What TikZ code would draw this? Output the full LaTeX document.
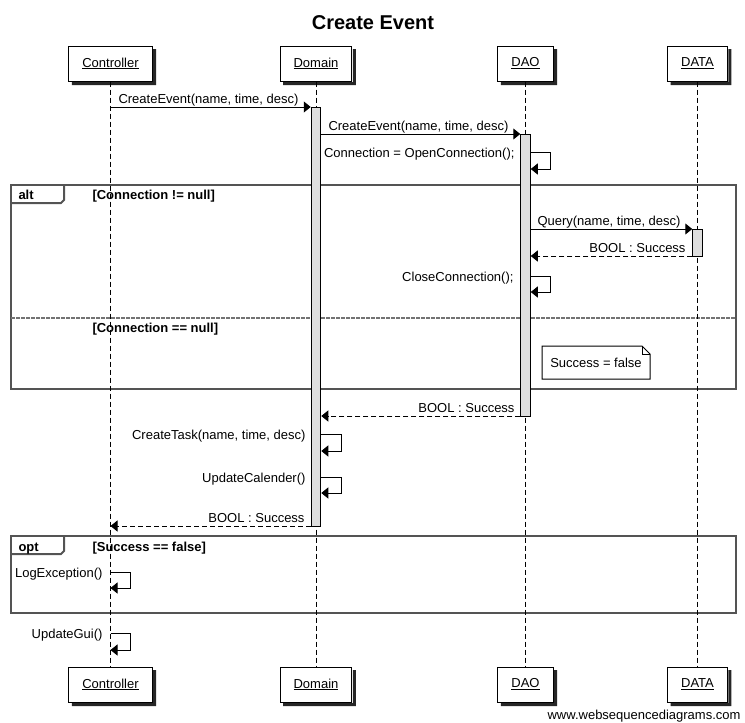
\documentclass[tikz,border=0pt]{standalone}
\usepackage{fontspec}
\setmainfont{Liberation Sans}
\usetikzlibrary{arrows.meta,calc}

\tikzset{
  actor/.style={draw,fill=white,inner xsep=13.5pt,minimum height=35pt,font=\fontsize{13}{15}\selectfont},
  lifeline/.style={dash pattern=on 5pt off 3pt},
  actbar/.style={draw,fill=black!13,minimum width=9.5pt,inner sep=0pt},
  msg/.style={-{Triangle[length=7pt,width=11pt]}},
  reply/.style={msg,dash pattern=on 5pt off 3pt},
  lbl/.style={font=\fontsize{13}{15}\selectfont,inner sep=0pt},
  fragbox/.style={draw=black!67,line width=2pt},
  guard/.style={font=\bfseries\fontsize{13}{15}\selectfont,inner sep=0pt},
}

\begin{document}
\begin{tikzpicture}[x=1pt,y=-1pt,line width=1pt]
\useasboundingbox (0,0) rectangle (745,723);

\node[font=\bfseries\fontsize{20}{24}\selectfont] (title) at (373,23) {Create Event};

% fragments
\draw[fragbox] (11,185) rectangle (736,389);
\draw[fragbox] (11,203) -- (61,203) -- (64,200) -- (64,185);
\node[guard,anchor=base west] (altlbl) at (18,199) {alt};
\node[guard,anchor=base west] (g1) at (92,199) {[Connection != null]};
\draw[draw=black!55,line width=2pt,dash pattern=on 4pt off 1pt] (11,318) -- (736,318);
\node[guard,anchor=base west] (g2) at (92,332) {[Connection == null]};

\draw[fragbox] (11,536) rectangle (736,613);
\draw[fragbox] (11,554) -- (61,554) -- (64,551) -- (64,536);
\node[guard,anchor=base west] (optlbl) at (18,551) {opt};
\node[guard,anchor=base west] (g3) at (92,551) {[Success == false]};

% participants
\node[actor] (ctrlT) at (110.5,63.5) {\underline{Controller}};
\node[actor] (domT) at (316,63.5) {\underline{Domain}};
\node[actor] (daoT) at (525.5,63.5) {\underline{DAO}};
\node[actor] (dataT) at (697.5,63.5) {\underline{DATA}};
\node[actor] (ctrlB) at (110.5,684.5) {\underline{Controller}};
\node[actor] (domB) at (316,684.5) {\underline{Domain}};
\node[actor] (daoB) at (525.5,684.5) {\underline{DAO}};
\node[actor] (dataB) at (697.5,684.5) {\underline{DATA}};
\foreach \p in {ctrlT,domT,daoT,dataT,ctrlB,domB,daoB,dataB}
  \fill[black!85] ($(\p.north east)+(0.5,3.5)$) -- ($(\p.north east)+(3.5,3.5)$)
    -- ($(\p.south east)+(3.5,3.5)$) -- ($(\p.south west)+(3.5,3.5)$)
    -- ($(\p.south west)+(3.5,0.5)$) -- ($(\p.south east)+(0.5,0.5)$) -- cycle;

\draw[lifeline] (ctrlT) -- (ctrlB);
\draw[lifeline] (domT) -- (domB);
\draw[lifeline] (daoT) -- (daoB);
\draw[lifeline] (dataT) -- (dataB);

\node[actbar,minimum height=419pt] (domAct) at (316,316.5) {};
\node[actbar,minimum height=282pt] (daoAct) at (525.5,275) {};
\node[actbar,minimum height=27pt] (dataAct) at (697.5,242.5) {};

% messages
\draw[msg] (ctrlT |- 0,107) -- (domAct.west |- 0,107);
\node[lbl,anchor=base west] (l1) at (118,103) {CreateEvent(name, time, desc)};
\draw[msg] (domAct.east |- 0,134) -- (daoAct.west |- 0,134);
\node[lbl,anchor=base west] (l2) at (328,130) {CreateEvent(name, time, desc)};
\draw[msg] (daoAct.east |- 0,152) -- ++(20,0) -- ++(0,17) -- (daoAct.east |- 0,169);
\node[lbl,anchor=base east] (l3) at (515,157) {Connection = OpenConnection();};

\draw[msg] (daoAct.east |- 0,229) -- (dataAct.west |- 0,229);
\node[lbl,anchor=base west] (l4) at (537,225) {Query(name, time, desc)};
\draw[reply] (dataAct.west |- 0,256) -- (daoAct.east |- 0,256);
\node[lbl,anchor=base east] (l5) at (686,252) {BOOL : Success};
\draw[msg] (daoAct.east |- 0,276) -- ++(20,0) -- ++(0,16) -- (daoAct.east |- 0,292);
\node[lbl,anchor=base east] (l6) at (514,281) {CloseConnection();};

\draw[fill=white] (542,346) -- (642,346) -- (650,354) -- (650,379) -- (542,379) -- cycle;
\draw (642,346) -- (642,354) -- (650,354);
\node[lbl] (note) at (596,362.5) {Success = false};

\draw[reply] (daoAct.west |- 0,416) -- (domAct.east |- 0,416);
\node[lbl,anchor=base east] (l7) at (515,412) {BOOL : Success};
\draw[msg] (domAct.east |- 0,434) -- ++(20,0) -- ++(0,17) -- (domAct.east |- 0,451);
\node[lbl,anchor=base east] (l8) at (306,439) {CreateTask(name, time, desc)};
\draw[msg] (domAct.east |- 0,477) -- ++(20,0) -- ++(0,16) -- (domAct.east |- 0,493);
\node[lbl,anchor=base east] (l9) at (306,482) {UpdateCalender()};
\draw[reply] (domAct.west |- 0,526) -- (ctrlT |- 0,526);
\node[lbl,anchor=base east] (l10) at (305,522) {BOOL : Success};

\draw[msg] (ctrlT |- 0,572) -- ++(20,0) -- ++(0,16) -- (ctrlT |- 0,588);
\node[lbl,anchor=base east] (l11) at (103,577) {LogException()};
\draw[msg] (ctrlT |- 0,633) -- ++(20,0) -- ++(0,17) -- (ctrlT |- 0,650);
\node[lbl,anchor=base east] (l12) at (103,638) {UpdateGui()};

\node[lbl,anchor=base east] (credit) at (741,719) {www.websequencediagrams.com};
\end{tikzpicture}
\end{document}
